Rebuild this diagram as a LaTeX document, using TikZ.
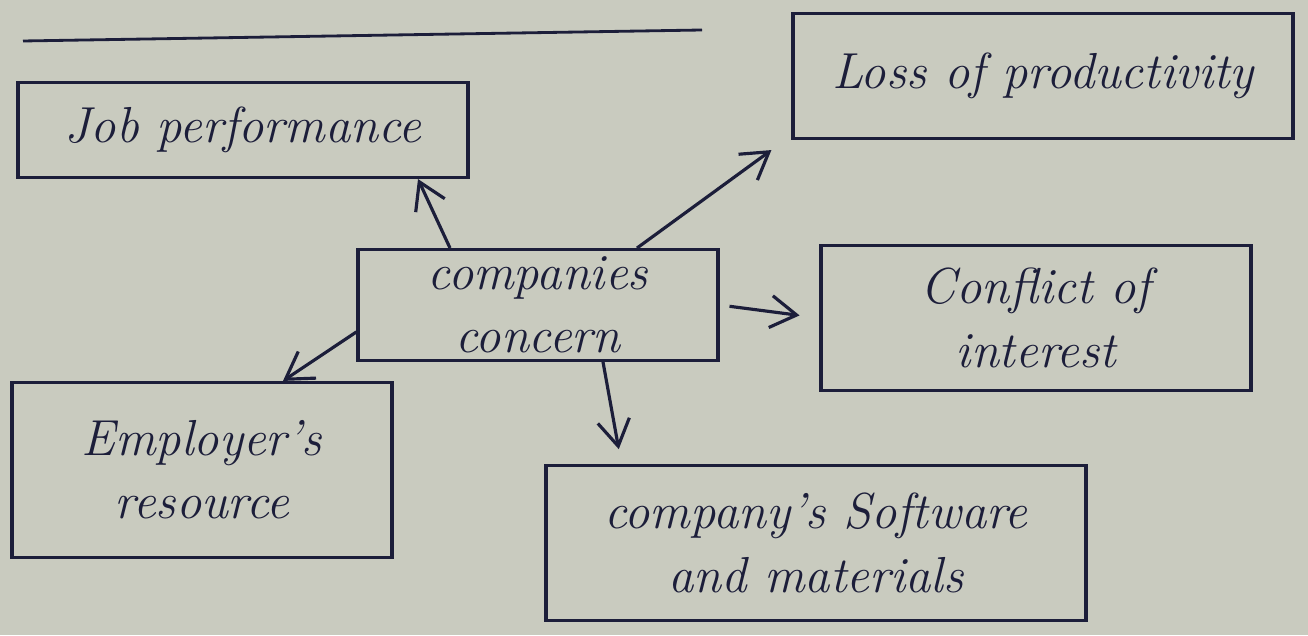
\documentclass[tikz,border=0pt]{standalone}
\usepackage{tikz}
\usetikzlibrary{arrows.meta}
\definecolor{paper}{RGB}{201,203,191}
\definecolor{ink}{RGB}{28,30,58}
\tikzset{
  box/.style={draw=ink, line width=0.9pt, text=ink, align=center, inner sep=2pt,
    font=\Large\itshape},
  link/.style={draw=ink, line width=0.9pt, -{Straight Barb[length=2.6mm,width=3.2mm]}}
}

\begin{document}
\begin{tikzpicture}
			%%%%% START %%%%%
			
			\fill[paper] (0, 0) rectangle (13.08, 6.35);
			\useasboundingbox (0, 0) rectangle (13.08, 6.35);
			
			\draw[ink, line width=0.8pt] (0.23, 5.94) -- (7.02, 6.05);
			
			\node[box, minimum width=4.5cm, minimum height=0.95cm] (job) at (2.43, 5.05) {Job performance};
			\node[box, minimum width=5.0cm, minimum height=1.25cm] (loss) at (10.43, 5.59) {Loss of productivity};
			\node[box, minimum width=3.6cm, minimum height=1.02cm] (concern) at (5.38, 3.30) {companies\\concern};
			\node[box, minimum width=4.3cm, minimum height=1.45cm] (conflict) at (10.36, 3.17) {Conflict of\\interest};
			\node[box, minimum width=3.8cm, minimum height=1.75cm] (employer) at (2.02, 1.65) {Employer's\\resource};
			\node[box, minimum width=5.4cm, minimum height=1.55cm] (software) at (8.16, 0.92) {company's Software\\and materials};
			
			\draw[link] ([xshift=-0.88cm]concern.north) -- ([xshift=1.75cm]job.south);
			\draw[link] ([xshift=0.99cm]concern.north) -- ([xshift=-0.2cm, yshift=-0.1cm]loss.south west);
			\draw[link, shorten <=0.1cm, shorten >=0.2cm] (concern.east) -- (conflict.west);
			\draw[link, shorten >=0.15cm] ([xshift=0.65cm]concern.south) -- ([xshift=0.77cm]software.north west);
			\draw[link] ([yshift=0.3cm]concern.south west) -- ([xshift=0.81cm]employer.north);
			
			%%%%% END %%%%%
\end{tikzpicture}
\end{document}
